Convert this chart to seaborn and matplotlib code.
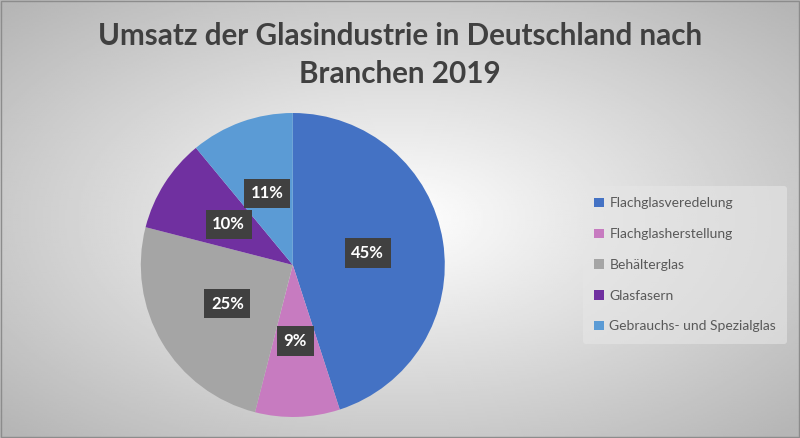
import numpy as np
import matplotlib
matplotlib.use("Agg")
import matplotlib.pyplot as plt
import seaborn as sns

# Data
branchen = ['Flachglasveredelung', 'Flachglasherstellung', 'Behälterglas',
            'Glasfasern', 'Gebrauchs- und Spezialglas']
anteile = [45, 9, 25, 10, 11]
farben = ['#4472C4', '#C77BC0', '#A5A5A5', '#7030A0', '#5B9BD5']
titel = 'Umsatz der Glasindustrie in Deutschland nach\nBranchen 2019'

sns.set_style('white')
plt.rcParams['font.family'] = ['Lato', 'DejaVu Sans']

fig = plt.figure(figsize=(8, 4.38), dpi=100)

# radial gradient background
bg = fig.add_axes([0, 0, 1, 1])
xx, yy = np.meshgrid(np.linspace(-1, 1, 400), np.linspace(-1, 1, 220))
rr = np.sqrt((xx * 0.95) ** 2 + (yy * 0.95) ** 2)
bg.imshow(1 - 0.22 * np.clip(rr, 0, 1.3), cmap='gray', vmin=0, vmax=1,
          aspect='auto', extent=[0, 1, 0, 1])
bg.set_xlim(0, 1)
bg.set_ylim(0, 1)
bg.axis('off')
bg.add_patch(plt.Rectangle((0.001, 0.002), 0.998, 0.996, fill=False,
                           edgecolor='#8c8c8c', lw=1))

# pie
ax = fig.add_axes([0.176, 0.048, 0.38, 0.694])
wedges, texts, autotexts = ax.pie(
    anteile, colors=farben, startangle=90, counterclock=False,
    autopct='%d%%', pctdistance=0.5, radius=1.0,
    wedgeprops=dict(linewidth=0),
    textprops=dict(color='white', fontsize=12, fontweight='bold'))
for t in autotexts:
    t.set_bbox(dict(boxstyle='square,pad=0.4', facecolor='#404040',
                    edgecolor='none'))
ax.set_xlim(-1, 1)
ax.set_ylim(-1, 1)
ax.set_aspect('equal')
ax.axis('off')

fig.text(0.5, 0.875, titel, ha='center', va='center', fontsize=21.3,
         fontweight='bold', color='#404040', linespacing=1.42)

leg = fig.legend(wedges, branchen, loc='center left',
                 bbox_to_anchor=(0.72, 0.395), frameon=True,
                 fontsize=10, handlelength=0.7, handleheight=0.7,
                 handletextpad=0.4, labelspacing=1.35, borderpad=0.8,
                 labelcolor='#595959')
leg.get_frame().set_facecolor('#e6e6e6')
leg.get_frame().set_edgecolor('none')
leg.get_frame().set_alpha(0.6)

fig.savefig('out.png', dpi=100)
